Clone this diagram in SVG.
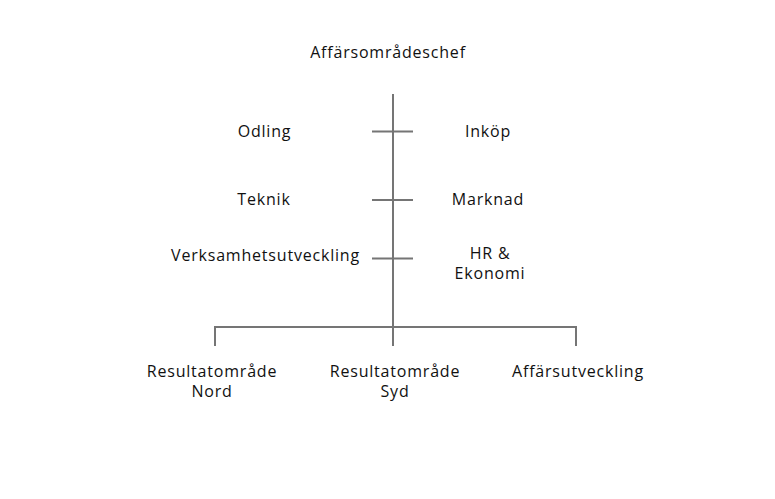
<svg xmlns="http://www.w3.org/2000/svg" width="775" height="499" viewBox="0 0 775 499">
<style>
text{font-family:"Open Sans","Liberation Sans",sans-serif;font-size:16px;letter-spacing:0.8px;fill:#111;text-anchor:middle}
.ln{stroke:#757575;stroke-width:2;fill:none}
</style>
<rect width="775" height="499" fill="#fff"/>
<g id="connectors">
<line class="ln" x1="393" y1="94" x2="393" y2="346"/>
<line class="ln" x1="372" y1="131.5" x2="413" y2="131.5"/>
<line class="ln" x1="372" y1="200" x2="413" y2="200"/>
<line class="ln" x1="372" y1="258.5" x2="413" y2="258.5"/>
<polyline class="ln" points="215,346 215,327 576,327 576,346"/>
</g>
<g id="n-chef"><text x="388" y="58">Affärsområdeschef</text></g>
<g id="n-odling"><text x="264.5" y="137">Odling</text></g>
<g id="n-inkop"><text x="488" y="137">Inköp</text></g>
<g id="n-teknik"><text x="264" y="205">Teknik</text></g>
<g id="n-marknad"><text x="488" y="205">Marknad</text></g>
<g id="n-verksamhet"><text x="265.5" y="261">Verksamhetsutveckling</text></g>
<g id="n-hr"><text x="490" y="259">HR &amp;</text><text x="490" y="279">Ekonomi</text></g>
<g id="n-nord"><text x="212" y="377">Resultatområde</text><text x="212" y="397">Nord</text></g>
<g id="n-syd"><text x="395" y="377">Resultatområde</text><text x="395" y="397">Syd</text></g>
<g id="n-affutv"><text x="578" y="377">Affärsutveckling</text></g>
</svg>
